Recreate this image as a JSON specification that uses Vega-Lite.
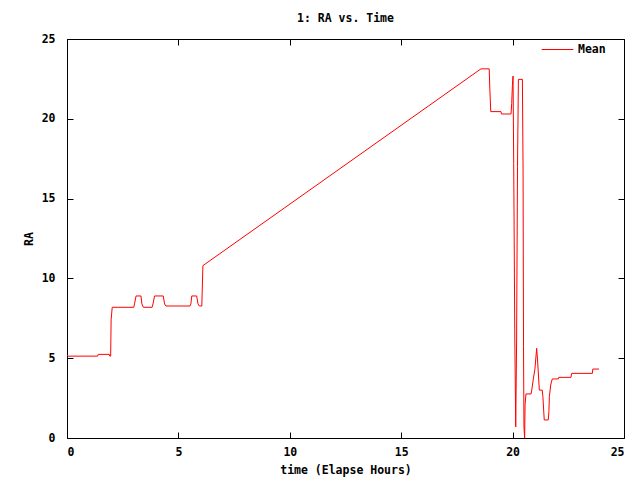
{
  "$schema": "https://vega.github.io/schema/vega-lite/v6.json",
  "width": 557,
  "height": 399,
  "autosize": "none",
  "padding": {"left": 67, "top": 39, "right": 16, "bottom": 42},
  "background": "white",
  "title": {"text": "1: RA vs. Time", "font": "DejaVu Sans Mono", "fontSize": 11.5, "fontWeight": "bold", "color": "black", "anchor": "middle", "offset": 9},
  "config": {
    "view": {"stroke": "black", "strokeWidth": 1},
    "axis": {"grid": false, "domain": false, "tickColor": "black", "tickSize": -6, "tickWidth": 1, "labelFont": "DejaVu Sans Mono", "labelFontSize": 11.5, "labelFontWeight": "bold", "labelColor": "black", "titleFont": "DejaVu Sans Mono", "titleFontSize": 11.5, "titleFontWeight": "bold", "titleColor": "black"}
  },
  "data": {"values": [
    {"t": 0, "v": 5.2}, {"t": 0.05, "v": 5.13}, {"t": 1.38, "v": 5.13}, {"t": 1.4, "v": 5.24}, {"t": 1.9, "v": 5.24}, {"t": 1.92, "v": 5.13}, {"t": 1.96, "v": 5.13}, {"t": 1.98, "v": 7.4}, {"t": 2.03, "v": 8.19},
    {"t": 3.0, "v": 8.19}, {"t": 3.03, "v": 8.4}, {"t": 3.1, "v": 8.9}, {"t": 3.32, "v": 8.9}, {"t": 3.36, "v": 8.4}, {"t": 3.43, "v": 8.19}, {"t": 3.82, "v": 8.19}, {"t": 3.86, "v": 8.4}, {"t": 3.93, "v": 8.9},
    {"t": 4.32, "v": 8.9}, {"t": 4.38, "v": 8.4}, {"t": 4.44, "v": 8.27}, {"t": 5.52, "v": 8.27}, {"t": 5.56, "v": 8.4}, {"t": 5.6, "v": 8.9}, {"t": 5.82, "v": 8.9}, {"t": 5.88, "v": 8.4}, {"t": 5.94, "v": 8.27},
    {"t": 6.05, "v": 8.27}, {"t": 6.1, "v": 10.8}, {"t": 18.58, "v": 23.13}, {"t": 18.95, "v": 23.13}, {"t": 18.98, "v": 21.8}, {"t": 19.02, "v": 20.45}, {"t": 19.48, "v": 20.45}, {"t": 19.5, "v": 20.3},
    {"t": 19.93, "v": 20.3}, {"t": 19.96, "v": 20.97}, {"t": 19.99, "v": 22.07}, {"t": 20.02, "v": 22.68}, {"t": 20.05, "v": 17.2}, {"t": 20.1, "v": 6.14}, {"t": 20.14, "v": 0.7}, {"t": 20.18, "v": 6.14},
    {"t": 20.22, "v": 17.0}, {"t": 20.26, "v": 22.47}, {"t": 20.44, "v": 22.47}, {"t": 20.47, "v": 16.8}, {"t": 20.49, "v": 5.72}, {"t": 20.51, "v": 0.7}, {"t": 20.54, "v": 0}, {"t": 20.56, "v": 2.07},
    {"t": 20.6, "v": 2.76}, {"t": 20.83, "v": 2.76}, {"t": 20.86, "v": 3.0}, {"t": 20.93, "v": 3.7}, {"t": 21.0, "v": 4.3}, {"t": 21.08, "v": 5.62}, {"t": 21.12, "v": 4.89}, {"t": 21.2, "v": 3.0},
    {"t": 21.33, "v": 3.0}, {"t": 21.36, "v": 2.59}, {"t": 21.42, "v": 1.13}, {"t": 21.6, "v": 1.13}, {"t": 21.63, "v": 1.65}, {"t": 21.65, "v": 2.59}, {"t": 21.71, "v": 3.32}, {"t": 21.78, "v": 3.7},
    {"t": 22.05, "v": 3.7}, {"t": 22.07, "v": 3.8}, {"t": 22.62, "v": 3.8}, {"t": 22.65, "v": 4.05}, {"t": 23.58, "v": 4.05}, {"t": 23.6, "v": 4.32}, {"t": 23.88, "v": 4.32}
  ]},
  "layer": [
    {
      "mark": {"type": "line", "strokeWidth": 1, "interpolate": "linear"},
      "encoding": {
        "x": {"field": "t", "type": "quantitative", "scale": {"domain": [0, 25], "nice": false, "zero": false}, "axis": {"orient": "bottom", "values": [0, 5, 10, 15, 20, 25], "title": "time (Elapse Hours)", "labelPadding": 14.5, "titlePadding": 6.5}},
        "y": {"field": "v", "type": "quantitative", "scale": {"domain": [0, 25], "nice": false, "zero": false}, "axis": {"orient": "left", "values": [0, 5, 10, 15, 20, 25], "title": "RA", "labelPadding": 18, "titlePadding": 7}},
        "color": {"datum": "Mean", "type": "nominal", "scale": {"domain": ["Mean"], "range": ["#ff0000"]}, "legend": {"title": null, "orient": "none", "legendX": 474, "legendY": -6, "symbolType": "stroke", "symbolStrokeWidth": 1, "symbolSize": 1000, "labelFont": "DejaVu Sans Mono", "labelFontSize": 11.5, "labelFontWeight": "bold", "labelColor": "black"}}
      }
    },
    {
      "mark": {"type": "line", "strokeOpacity": 0},
      "encoding": {
        "x": {"field": "t", "type": "quantitative", "axis": {"orient": "top", "values": [0, 5, 10, 15, 20, 25], "labels": false, "title": null}},
        "y": {"field": "v", "type": "quantitative", "axis": {"orient": "right", "values": [0, 5, 10, 15, 20, 25], "labels": false, "title": null}}
      }
    }
  ],
  "resolve": {"axis": {"x": "independent", "y": "independent"}}
}
